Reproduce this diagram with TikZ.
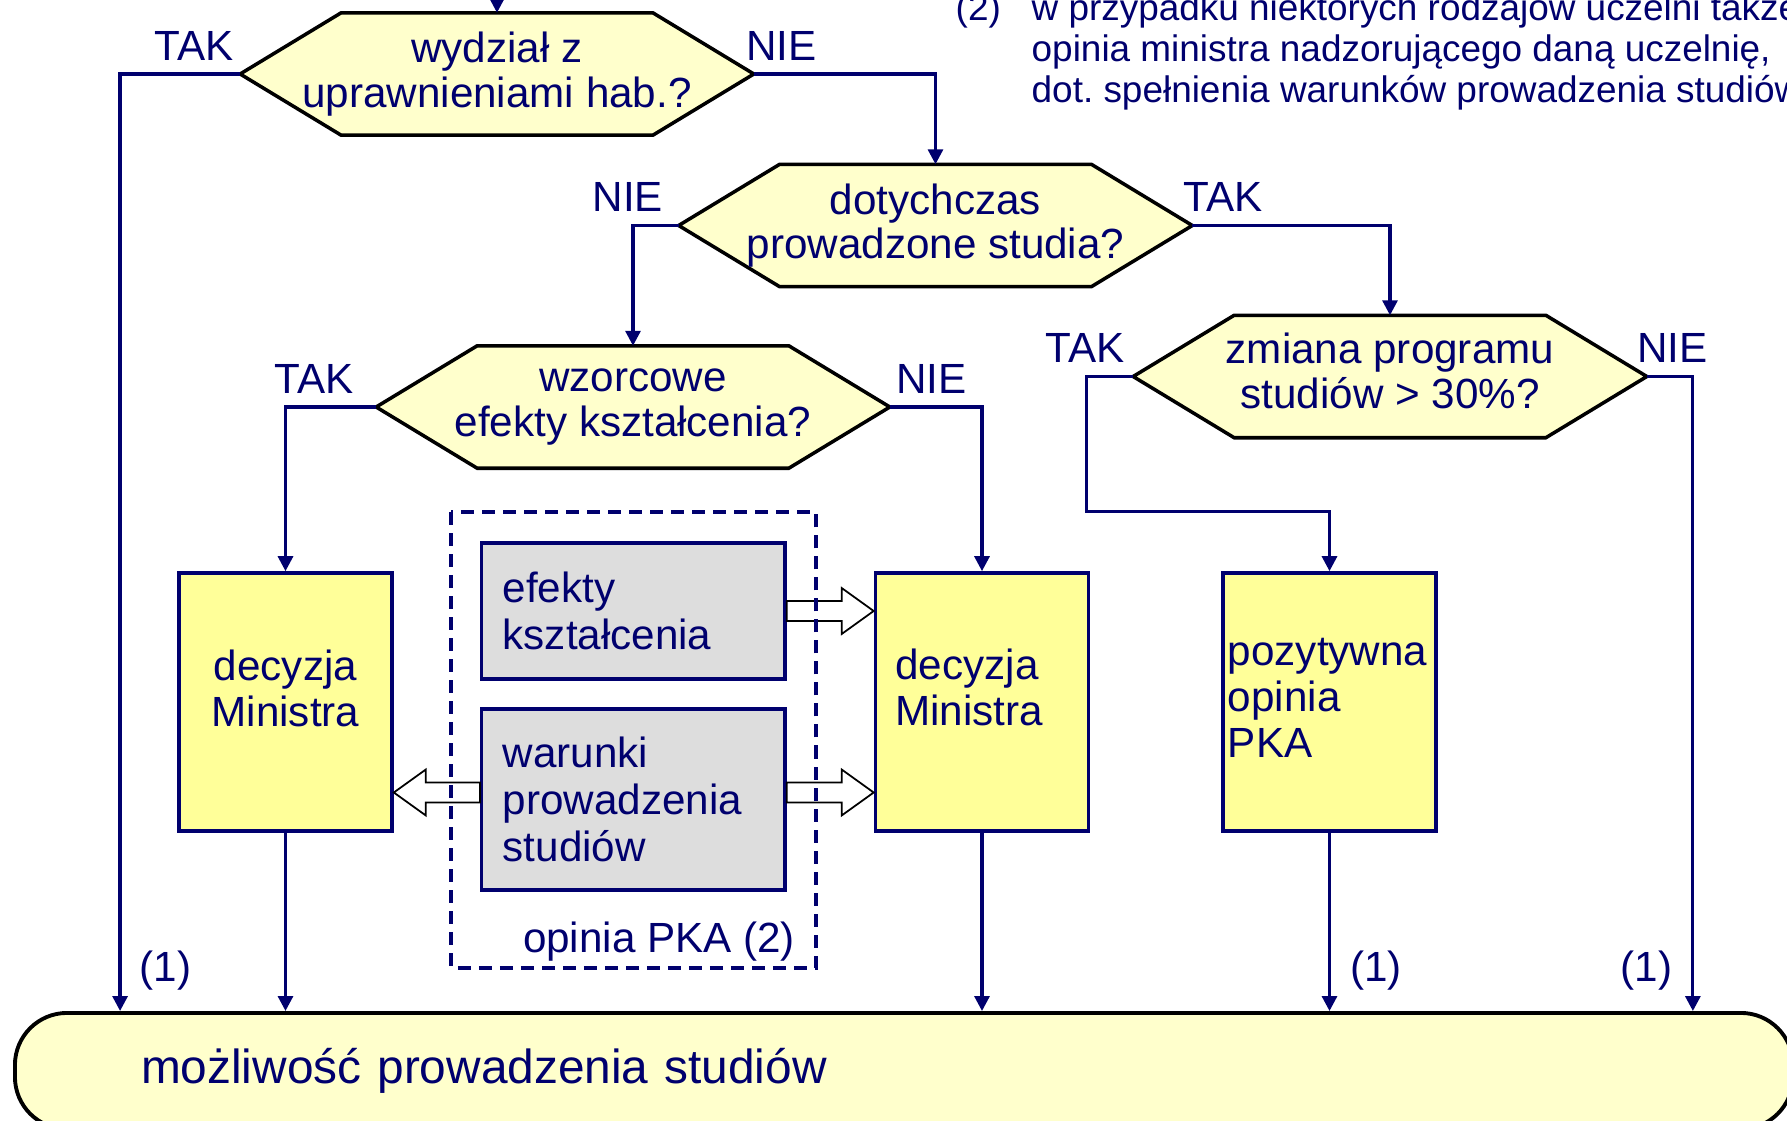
\documentclass[tikz,border=0pt]{standalone}
\usepackage{fontspec}
\setmainfont{Liberation Sans}
\usepackage{xcolor}
\usetikzlibrary{calc,arrows.meta,backgrounds}

\definecolor{navy}{RGB}{0,0,110}
\definecolor{hexfill}{RGB}{255,255,204}
\definecolor{boxfill}{RGB}{255,255,153}
\definecolor{greyfill}{RGB}{221,221,221}

\tikzset{
    flow/.style={draw=navy, line width=0.9pt, -{Triangle[length=0.15cm,width=0.15cm]}},
    question/.style={minimum width=5.12cm, minimum height=1.21cm, inner sep=0pt, align=center,
        text=navy, font=\fontsize{12}{12.7}\selectfont},
    hexline/.style={draw=black, line width=1pt, fill=hexfill},
    decbox/.style={draw=navy, line width=1pt, fill=boxfill, minimum width=2.13cm, minimum height=2.58cm,
        text=navy, font=\fontsize{12}{13.1}\selectfont},
    pkabox/.style={draw=navy, line width=1pt, fill=greyfill, minimum width=3.03cm, inner xsep=0.21cm,
        text width=2.61cm, align=left, text=navy, font=\fontsize{12}{13.4}\selectfont},
    endbox/.style={draw=black, line width=1.1pt, fill=hexfill, rounded corners=0.52cm, minimum height=1.16cm,
        inner xsep=1.26cm, text width=15.25cm, align=left, text=navy, font=\fontsize{13.6}{16}\selectfont},
    dashbox/.style={draw=navy, line width=1pt, dash pattern=on 0.13cm off 0.08cm},
    hollow/.style={draw=black, line width=0.5pt, fill=white},
    lbl/.style={text=navy, inner sep=0.12cm, font=\fontsize{12}{13}\selectfont},
    lblL/.style={lbl, anchor=south east},
    lblR/.style={lbl, anchor=south west, xshift=-0.17cm},
    one/.style={text=navy, inner sep=0pt, font=\fontsize{12}{13}\selectfont},
    note/.style={text=navy, inner sep=0pt, anchor=base west, font=\fontsize{10.5}{11}\selectfont\frenchspacing}
}

% block arrow from #1 to #2
\newcommand{\holarrow}[2]{%
    \coordinate (hb) at ($(#2)!0.32cm!(#1)$);
    \draw[hollow] ($(#1)!0.1cm!90:(#2)$) -- ($(hb)!0.1cm!90:(#2)$) -- ($(hb)!0.23cm!90:(#2)$) -- (#2)
        -- ($(hb)!0.23cm!-90:(#2)$) -- ($(hb)!0.1cm!-90:(#2)$) -- ($(#1)!0.1cm!-90:(#2)$) -- cycle;
}

\begin{document}
\begin{tikzpicture}[x=0.01cm, y=-0.01cm]
    \useasboundingbox (0,0) rectangle (1787,1121);

    % questions
    \node[question] (hab) at (497,74) {wydział z\\uprawnieniami hab.?};
    \node[question] (dot) at (935.5,225.5) {dotychczas\\prowadzone studia?};
    \node[question] (wzo) at (633,407) {wzorcowe\\efekty kształcenia?};
    \node[question, text depth=0.12cm] (zmi) at (1390,376.5) {zmiana programu\\studiów > 30\%?};

    % decisions
    \node[decbox, align=center, text depth=0.28cm] (decL) at (285.5,702) {decyzja\\Ministra};
    \node[decbox, align=left, text width=1.73cm, inner xsep=0.2cm, text depth=0.76cm] (decR) at (982,702) {decyzja\\Ministra};
    \node[decbox, align=left, text width=2.03cm, inner xsep=0.05cm, text depth=1.0cm] (poz) at (1329.5,702) {pozytywna\\opinia\\PKA};

    % opinia PKA
    \node[minimum width=3.63cm, minimum height=4.54cm, inner sep=0pt] (pka) at (633.5,740) {};
    \node[pkabox, minimum height=1.36cm] (efk) at (633.3,611) {efekty\\kształcenia};
    \node[pkabox, minimum height=1.81cm] (war) at (633.3,799.5) {warunki\\prowadzenia\\studiów};

    \node[endbox, anchor=north west] (moz) at (13,1011) {możliwość prowadzenia studiów};

    \begin{scope}[on background layer]
        \foreach \q in {hab,dot,wzo,zmi}
            \draw[hexline] (\q.west) -- ([xshift=1.01cm]\q.north west) -- ([xshift=-1.01cm]\q.north east)
                -- (\q.east) -- ([xshift=-1.01cm]\q.south east) -- ([xshift=1.01cm]\q.south west) -- cycle;
    \end{scope}

    \coordinate (in) at (497,-40);
    \draw[flow] (in) -- (hab.north);
    \draw[flow] (hab.west) node[lblL, xshift=0.07cm] {TAK} -- ++(-1.2cm,0) coordinate (t1) -- (t1 |- moz.north)
        node[one, anchor=base west, xshift=0.18cm, yshift=0.29cm] {(1)};
    \draw[flow] (hab.east) node[lblR, xshift=-0.04cm] {NIE} -| (dot.north);
    \draw[flow] (dot.west) node[lblL, xshift=-0.02cm] {NIE} -| (wzo.north);
    \draw[flow] (dot.east) node[lblR, xshift=-0.05cm] {TAK} -| (zmi.north);
    \draw[flow] (wzo.west) node[lblL, xshift=-0.09cm] {TAK} -| (decL.north);
    \draw[flow] (wzo.east) node[lblR, xshift=0.1cm] {NIE} -| (decR.north);
    \draw[flow] (zmi.west) node[lblL, xshift=0.05cm] {TAK} -- ++(-0.47cm,0) |- ([yshift=0.6cm]poz.north) -- (poz.north);
    \draw[flow] (zmi.east) node[lblR, xshift=-0.06cm] {NIE} -- ++(0.46cm,0) coordinate (n4) -- (n4 |- moz.north)
        node[one, anchor=base east, xshift=-0.19cm, yshift=0.29cm] {(1)};
    \draw[flow] (decL.south) -- (decL.south |- moz.north);
    \draw[flow] (decR.south) -- (decR.south |- moz.north);
    \draw[flow] (poz.south) -- (poz.south |- moz.north)
        node[one, anchor=base west, xshift=0.19cm, yshift=0.29cm] {(1)};

    \coordinate (e1) at (decR.west |- efk.east);
    \coordinate (w0) at ([yshift=0.07cm]war.east);
    \coordinate (w1) at (decR.west |- w0);
    \coordinate (w2) at ([yshift=0.07cm]war.west);
    \coordinate (w3) at (decL.east |- w2);
    \holarrow{efk.east}{e1}
    \holarrow{w0}{w1}
    \holarrow{w2}{w3}

    \draw[dashbox] (pka.north west) rectangle (pka.south east);
    \node[one, anchor=base east] (pkanote) at ([xshift=-0.2cm,yshift=0.15cm]pka.south east) {opinia PKA (2)};

    % footnote
    \node[note] (n2) at (955,21) {(2)};
    \foreach \t [count=\i] in {w przypadku niektórych rodzajów uczelni także, {opinia ministra nadzorującego daną uczelnię,}, dot. spełnienia warunków prowadzenia studiów}
        \node[note] (note\i) at (1031,{21+40.5*(\i-1)}) {\t};
\end{tikzpicture}
\end{document}
